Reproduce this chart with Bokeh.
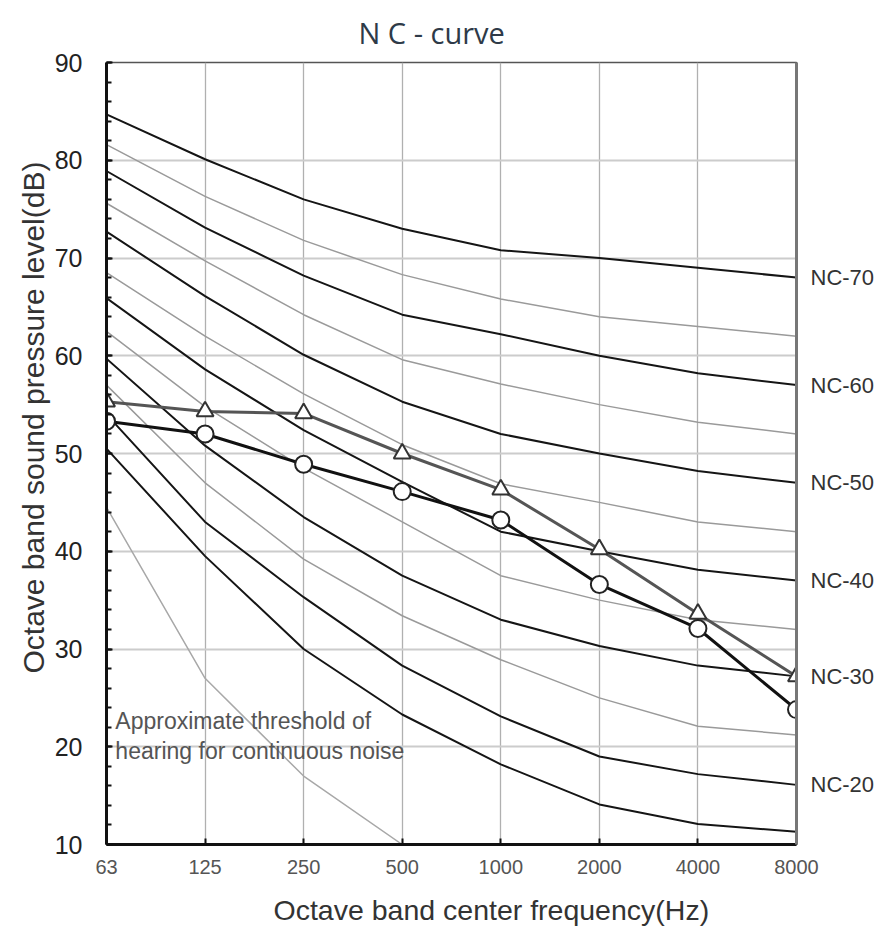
from bokeh.plotting import figure
from bokeh.models import (Range1d, FixedTicker, SingleIntervalTicker, LinearAxis, Label, Title)
from bokeh.embed import file_html
from bokeh.resources import INLINE

# ---------------- data ----------------
frequencies = ["63", "125", "250", "500", "1000", "2000", "4000", "8000"]

nc_levels = [70, 65, 60, 55, 50, 45, 40, 35, 30, 25, 20, 15]
nc70 = [84.7, 80.1, 76.0, 73.0, 70.8, 70.0, 69.0, 68.0]
nc65 = [81.6, 76.3, 71.8, 68.3, 65.8, 64.0, 63.0, 62.0]
nc60 = [78.9, 73.1, 68.2, 64.2, 62.2, 60.0, 58.2, 57.0]
nc55 = [75.6, 69.7, 64.2, 59.6, 57.1, 55.0, 53.2, 52.0]
nc50 = [72.7, 66.1, 60.1, 55.3, 52.0, 50.0, 48.2, 47.0]
nc45 = [68.5, 62.0, 56.1, 50.9, 46.9, 45.0, 43.0, 42.0]
nc40 = [65.9, 58.6, 52.4, 47.1, 42.0, 40.0, 38.1, 37.0]
nc35 = [62.5, 54.8, 48.5, 43.0, 37.5, 35.0, 33.0, 32.0]
nc30 = [59.7, 50.8, 43.5, 37.5, 33.0, 30.3, 28.3, 27.2]
nc25 = [57.0, 47.0, 39.2, 33.4, 28.9, 25.0, 22.1, 21.2]
nc20 = [54.0, 43.0, 35.3, 28.3, 23.1, 19.0, 17.2, 16.1]
nc15 = [50.5, 39.5, 30.0, 23.3, 18.2, 14.1, 12.1, 11.3]
nc_values = [nc70, nc65, nc60, nc55, nc50, nc45, nc40, nc35, nc30, nc25, nc20, nc15]

threshold_freqs = ["63", "125", "250", "500"]
threshold_values = [44.5, 27.0, 17.0, 10.0]

measured_triangle = [55.3, 54.3, 54.1, 50.0, 46.3, 40.2, 33.6, 27.2]
measured_circle = [53.3, 52.0, 48.9, 46.1, 43.2, 36.6, 32.1, 23.8]

y_ticks = [10, 20, 30, 40, 50, 60, 70, 80, 90]

title_text = "N C - curve"
x_label = "Octave band center frequency(Hz)"
y_label = "Octave band sound pressure level(dB)"
note_lines = ["Approximate threshold of", "hearing for continuous noise"]

# ---------------- figure ----------------
FONT = "Liberation Sans"
xs = list(range(len(frequencies)))

p = figure(frame_width=690, frame_height=782,
           min_border_left=106, min_border_right=82,
           min_border_top=61, min_border_bottom=91,
           x_range=Range1d(0, len(frequencies) - 1),
           y_range=Range1d(y_ticks[0], y_ticks[-1]),
           output_backend="svg", toolbar_location=None)

p.background_fill_color = "white"
p.border_fill_color = "white"
p.outline_line_color = "#555555"
p.outline_line_width = 1.5

# x axis
xax = p.xaxis[0]
xax.ticker = FixedTicker(ticks=xs)
xax.major_label_overrides = {i: f for i, f in enumerate(frequencies)}
xax.major_label_text_font = FONT
xax.major_label_text_font_size = "20px"
xax.major_label_text_color = "#555555"
xax.major_label_standoff = 15
xax.axis_line_color = "#111111"
xax.axis_line_width = 3
xax.major_tick_in = 6
xax.major_tick_out = 0
xax.major_tick_line_color = "#111111"
xax.major_tick_line_width = 2
xax.minor_tick_line_color = None

# y axis
yax = p.yaxis[0]
yax.ticker = SingleIntervalTicker(interval=10, num_minor_ticks=5)
yax.major_label_text_font = FONT
yax.major_label_text_font_size = "25px"
yax.major_label_text_color = "#222222"
yax.major_label_standoff = 24
yax.axis_line_color = "#111111"
yax.axis_line_width = 3
yax.major_tick_in = 6
yax.major_tick_out = 0
yax.major_tick_line_color = "#111111"
yax.major_tick_line_width = 2
yax.minor_tick_in = 5
yax.minor_tick_out = 0
yax.minor_tick_line_color = "#111111"
yax.minor_tick_line_width = 2

# grids
p.xgrid.ticker = FixedTicker(ticks=xs)
p.xgrid.grid_line_color = "#b0b0b0"
p.xgrid.grid_line_width = 1.3
p.ygrid.ticker = FixedTicker(ticks=y_ticks)
p.ygrid.grid_line_color = "#cccccc"
p.ygrid.grid_line_width = 2

# right axis with NC labels
label_levels = [lv for lv in nc_levels if lv % 10 == 0]
label_ends = {nc_values[nc_levels.index(lv)][-1]: f"NC-{lv}" for lv in label_levels}
rax = LinearAxis(ticker=FixedTicker(ticks=list(label_ends.keys())),
                 major_label_overrides=label_ends)
rax.axis_line_color = "#777777"
rax.axis_line_width = 3
rax.major_tick_line_color = None
rax.minor_tick_line_color = None
rax.major_label_standoff = 8
rax.major_label_text_font = FONT
rax.major_label_text_font_size = "22px"
rax.major_label_text_color = "#333333"
p.add_layout(rax, "right")

# title and axis labels as titles (so they can sit outside the frame)
p.add_layout(Title(text=x_label, align="left", offset=167, standoff=30,
                   text_font=FONT, text_font_size="28.5px", text_font_style="normal",
                   text_color="#333333"), "below")
p.add_layout(Title(text=y_label, align="left", offset=171, standoff=4,
                   text_font=FONT, text_font_size="30px", text_font_style="normal",
                   text_color="#333333"), "left")
p.add_layout(Title(text=title_text, align="left", offset=252, standoff=21,
                   text_font="Open Sans", text_font_size="29px", text_font_style="normal",
                   text_color="#2e3a48"), "above")

# NC curves
for lv, vals in zip(nc_levels, nc_values):
    dark = (lv % 10 == 0) or lv == nc_levels[-1]
    p.line(xs, vals,
           line_color="#151515" if dark else "#9a9a9a",
           line_width=2 if dark else 1.5)

# threshold of hearing
p.line([frequencies.index(f) for f in threshold_freqs], threshold_values,
       line_color="#a8a8a8", line_width=1.5)

for i, t in enumerate(note_lines):
    p.add_layout(Label(x=0.09, y=22.6 - 3.05 * i, text=t,
                       text_font=FONT, text_font_size="23px", text_color="#555555",
                       text_baseline="middle"))

# measured spectra
p.line(xs, measured_triangle, line_color="#555555", line_width=3)
p.scatter(xs, measured_triangle, marker="triangle", size=17,
          fill_color="white", line_color="#333333", line_width=2)
p.line(xs, measured_circle, line_color="#111111", line_width=3)
p.scatter(xs, measured_circle, marker="circle", size=17,
          fill_color="white", line_color="#222222", line_width=2)

open("out.html", "w").write(file_html(p, INLINE))
